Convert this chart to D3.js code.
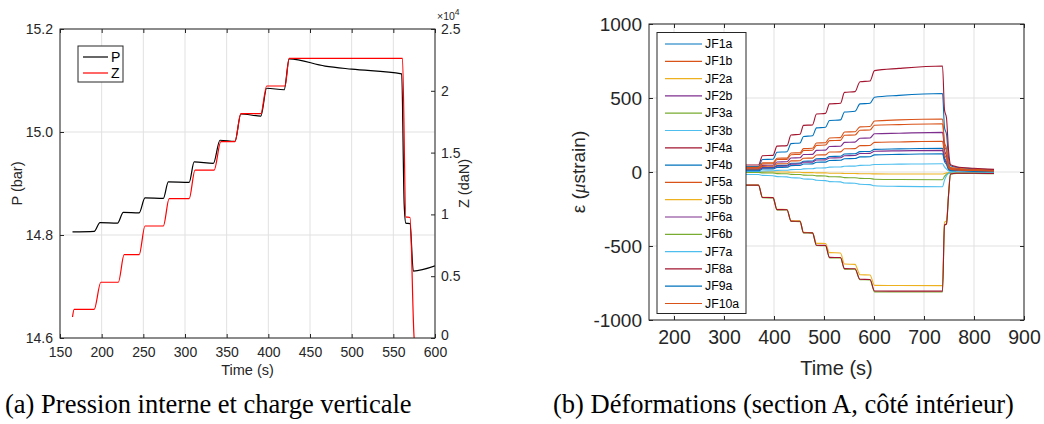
<!DOCTYPE html>
<html><head><meta charset="utf-8">
<script src="https://cdn.jsdelivr.net/npm/d3@7"></script>
<style>
body{margin:0;background:#fff;}
svg{display:block;font-family:"Liberation Sans",Arial,sans-serif;}
</style></head><body>
<svg id="c" width="1044" height="424"></svg>
<script>
// ---------- Left chart data ----------
const xTicksL = [150,200,250,300,350,400,450,500,550,600];
const pTicks = [14.6,14.8,15.0,15.2];
const zTicks = [0,0.5,1,1.5,2,2.5];           // ×10^4 daN
const pTime = [165,191,198,219,226,245,252,274,280,305,311,334,342,360,367,391,398,419,425,468,500,560,563,565,570,574,600];
const pVal  = [14.806,14.807,14.824,14.823,14.844,14.843,14.872,14.871,14.903,14.902,14.942,14.939,14.984,14.982,15.035,15.031,15.085,15.082,15.142,15.128,15.122,15.113,14.86,14.823,14.822,14.730,14.740];
const zTime = [165,167,191,199,220,227,245,252,274,281,305,312,335,343,360,367,391,398,420,425,561,565,570,575,578];
const zVal  = [0.17,0.232,0.232,0.451,0.451,0.674,0.674,0.906,0.906,1.127,1.127,1.359,1.359,1.588,1.588,1.815,1.815,2.039,2.039,2.263,2.263,0.98,0.975,0,-0.1];
const leftLegend = ["P","Z"];

// ---------- Right chart data ----------
const xTicksR = [200,300,400,500,600,700,800,900];
const yTicksR = [-1000,-500,0,500,1000];
const sTime = [170,369,377,398,406,426,434,452,459,477,485,503,511,533,541,562,572,592,601,650,737,741,745,749,753,765,800,840];
const JF1a  = [35,36,84,86,133,137,192,196,240,245,298,302,348,352,405,410,460,464,505,518,530,300,255,95,42,32,22,16];
const JF1b  = [30,31,62,63,93,94,128,130,158,160,196,198,230,232,270,272,305,307,345,352,358,200,160,60,30,25,18,14];
const JF2a  = [2,2,1,1,0,0,-2,-2,-4,-4,-6,-6,-8,-8,-10,-10,-12,-12,-13,-14,-14,-10,-6,-4,-3,-3,-4,-5];
const JF2b  = [22,22,45,46,68,69,95,96,118,119,146,148,172,174,200,202,228,230,258,262,268,150,110,40,22,18,12,8];
const JF3a  = [-3,-3,-6,-7,-11,-12,-16,-17,-21,-22,-26,-27,-32,-33,-38,-39,-43,-44,-49,-51,-52,-30,-15,-8,-5,-5,-6,-6];
const JF3b  = [-16,-17,-23,-25,-31,-33,-39,-41,-47,-49,-56,-58,-65,-67,-74,-76,-83,-85,-93,-97,-100,-55,-25,-10,-6,-5,-6,-8];
const JF4a  = [47,47,110,112,175,178,250,255,315,318,392,396,460,464,538,543,610,615,685,700,716,420,365,150,50,36,25,18];
const JF4b  = [16,16,30,31,44,45,59,60,73,74,90,91,105,106,122,123,138,139,153,156,160,95,70,25,15,12,8,5];
const JF5a  = [26,27,55,56,84,85,117,119,145,147,180,182,212,214,248,250,282,284,316,320,326,180,140,50,25,20,14,10];
const JF5b  = [-88,-88,-171,-172,-252,-253,-329,-330,-408,-409,-482,-483,-545,-547,-622,-624,-694,-696,-766,-767,-768,-340,-330,-150,-10,-6,-6,-8];
const JF6a  = [12,12,26,27,39,40,53,54,66,67,81,82,95,96,110,111,125,126,140,143,146,85,60,22,12,10,6,4];
const JF6b  = [-90,-90,-174,-175,-256,-257,-334,-335,-412,-413,-497,-498,-580,-581,-656,-657,-728,-729,-810,-811,-811,-362,-352,-162,-15,-9,-9,-11];
const JF7a  = [4,4,7,8,11,12,16,17,21,22,27,28,33,34,39,40,45,46,51,53,56,35,20,8,4,2,0,-2];
const JF8a  = [-88,-89,-172,-173,-254,-255,-332,-333,-410,-411,-495,-496,-577,-578,-653,-654,-725,-726,-804,-805,-805,-358,-350,-160,-14,-8,-8,-10];
const JF9a  = [8,8,20,21,31,32,43,44,54,55,66,67,78,79,90,91,102,103,116,119,123,70,50,18,10,8,4,2];
const JF10a = [20,20,38,39,55,56,75,76,93,94,115,116,135,136,157,158,178,179,200,203,208,120,90,30,18,14,10,6];
const jfNames = ["JF1a","JF1b","JF2a","JF2b","JF3a","JF3b","JF4a","JF4b","JF5a","JF5b","JF6a","JF6b","JF7a","JF8a","JF9a","JF10a"];
const jfValues = [JF1a,JF1b,JF2a,JF2b,JF3a,JF3b,JF4a,JF4b,JF5a,JF5b,JF6a,JF6b,JF7a,JF8a,JF9a,JF10a];
const matlabColors = ["#0072BD","#D95319","#EDB120","#7E2F8E","#77AC30","#4DBEEE","#A2142F"];

const captionA = "(a) Pression interne et charge verticale";
const captionB = "(b) Déformations (section A, côté intérieur)";

// ---------- Drawing ----------
const svg = d3.select("#c");
const ink = "#262626", gridC = "#e1e1e1";
const defs = svg.append("defs");

function styleAxis(g, fs){
  g.attr("font-family","Liberation Sans, Arial, sans-serif").attr("font-size",fs);
  g.select(".domain").remove();
  g.selectAll("line").attr("stroke",ink);
  g.selectAll("text").attr("fill",ink);
  return g;
}
const plain = d => String(d);

// ===== Left =====
const L = {l:60, r:435, t:29, b:338};
const xL = d3.scaleLinear([150,600],[L.l,L.r]);
const yP = d3.scaleLinear([14.6,15.2],[L.b,L.t]);
const yZ = d3.scaleLinear([0,2.5],[L.b,L.t]);
const gL = svg.append("g");
gL.selectAll(null).data(xTicksL).join("line")
  .attr("x1",d=>xL(d)).attr("x2",d=>xL(d)).attr("y1",L.t).attr("y2",L.b).attr("stroke",gridC);
gL.selectAll(null).data(pTicks).join("line")
  .attr("y1",d=>yP(d)).attr("y2",d=>yP(d)).attr("x1",L.l).attr("x2",L.r).attr("stroke",gridC);
defs.append("clipPath").attr("id","clipL").append("rect")
  .attr("x",L.l).attr("y",L.t).attr("width",L.r-L.l).attr("height",L.b-L.t);
const pData = pTime.map((t,i)=>[t,pVal[i]]);
const zData = zTime.map((t,i)=>[t,zVal[i]]);
const plotL = gL.append("g").attr("clip-path","url(#clipL)");
plotL.append("path").datum(pData).attr("fill","none").attr("stroke","#000").attr("stroke-width",1.2)
  .attr("d",d3.line().x(d=>xL(d[0])).y(d=>yP(d[1])).curve(d3.curveMonotoneX));
plotL.append("path").datum(zData).attr("fill","none").attr("stroke","#ff0000").attr("stroke-width",1.2)
  .attr("d",d3.line().x(d=>xL(d[0])).y(d=>yZ(d[1])).curve(d3.curveMonotoneX));
gL.append("rect").attr("x",L.l).attr("y",L.t).attr("width",L.r-L.l).attr("height",L.b-L.t)
  .attr("fill","none").attr("stroke",ink).attr("stroke-width",1);
styleAxis(gL.append("g").attr("transform",`translate(0,${L.b})`)
  .call(d3.axisBottom(xL).tickValues(xTicksL).tickSize(-4).tickSizeOuter(0).tickPadding(9).tickFormat(plain)),14);
styleAxis(gL.append("g").attr("transform",`translate(0,${L.t})`)
  .call(d3.axisTop(xL).tickValues(xTicksL).tickSize(-4).tickSizeOuter(0).tickFormat("")),14);
styleAxis(gL.append("g").attr("transform",`translate(${L.l},0)`)
  .call(d3.axisLeft(yP).tickValues(pTicks).tickSize(-4).tickSizeOuter(0).tickPadding(7).tickFormat(d3.format(".1f"))),14);
const axZ = styleAxis(gL.append("g").attr("transform",`translate(${L.r},0)`)
  .call(d3.axisRight(yZ).tickValues(zTicks).tickSize(-4).tickSizeOuter(0).tickPadding(6).tickFormat(plain)),14);
axZ.selectAll(".tick text").filter(d=>d===0).attr("dy","0.1em");
const exp = gL.append("text").attr("x",437).attr("y",20).attr("fill",ink).attr("font-size",10.5);
exp.append("tspan").text("×10");
exp.append("tspan").attr("dy",-5).attr("font-size",8.5).text("4");
gL.append("text").attr("x",(L.l+L.r)/2).attr("y",375).attr("text-anchor","middle").attr("fill",ink).attr("font-size",14.5).text("Time (s)");
gL.append("text").attr("transform",`translate(17,${(L.t+L.b)/2}) rotate(-90)`).attr("text-anchor","middle")
  .attr("dominant-baseline","central").attr("fill",ink).attr("font-size",14.5).text("P (bar)");
gL.append("text").attr("transform",`translate(464,${(L.t+L.b)/2}) rotate(-90)`).attr("text-anchor","middle")
  .attr("dominant-baseline","central").attr("fill",ink).attr("font-size",14.5).text("Z (daN)");
// left legend
const lgL = gL.append("g");
lgL.append("rect").attr("x",78).attr("y",46).attr("width",45).attr("height",36).attr("fill","#fff").attr("stroke",ink);
lgL.selectAll(null).data(leftLegend).join("g").each(function(d,i){
  const g = d3.select(this), y = 57 + i*16;
  g.append("line").attr("x1",83).attr("x2",108).attr("y1",y).attr("y2",y).attr("stroke",i? "#ff0000":"#000").attr("stroke-width",1.2);
  g.append("text").attr("x",111).attr("y",y).attr("dominant-baseline","central").attr("fill","#000").attr("font-size",14).text(d);
});

// ===== Right =====
const R = {l:649, r:1024, t:24, b:320};
const xR = d3.scaleLinear([150,900],[R.l,R.r]);
const yR = d3.scaleLinear([-1000,1000],[R.b,R.t]);
const gR = svg.append("g");
gR.selectAll(null).data(xTicksR).join("line")
  .attr("x1",d=>xR(d)).attr("x2",d=>xR(d)).attr("y1",R.t).attr("y2",R.b).attr("stroke",gridC);
gR.selectAll(null).data(yTicksR).join("line")
  .attr("y1",d=>yR(d)).attr("y2",d=>yR(d)).attr("x1",R.l).attr("x2",R.r).attr("stroke",gridC);
defs.append("clipPath").attr("id","clipR").append("rect")
  .attr("x",R.l).attr("y",R.t).attr("width",R.r-R.l).attr("height",R.b-R.t);
const plotR = gR.append("g").attr("clip-path","url(#clipR)");
const lineR = d3.line().x(d=>xR(d[0])).y(d=>yR(d[1])).curve(d3.curveMonotoneX);
jfValues.forEach((vals,k)=>{
  plotR.append("path").datum(sTime.map((t,i)=>[t,vals[i]]))
    .attr("fill","none").attr("stroke",matlabColors[k%7]).attr("stroke-width",1.1).attr("d",lineR);
});
gR.append("rect").attr("x",R.l).attr("y",R.t).attr("width",R.r-R.l).attr("height",R.b-R.t)
  .attr("fill","none").attr("stroke",ink);
styleAxis(gR.append("g").attr("transform",`translate(0,${R.b})`)
  .call(d3.axisBottom(xR).tickValues(xTicksR).tickSize(-4).tickSizeOuter(0).tickPadding(10).tickFormat(plain)),19.5);
styleAxis(gR.append("g").attr("transform",`translate(0,${R.t})`)
  .call(d3.axisTop(xR).tickValues(xTicksR).tickSize(-4).tickSizeOuter(0).tickFormat("")),19);
styleAxis(gR.append("g").attr("transform",`translate(${R.l},0)`)
  .call(d3.axisLeft(yR).tickValues(yTicksR).tickSize(-4).tickSizeOuter(0).tickPadding(7).tickFormat(plain)),19);
styleAxis(gR.append("g").attr("transform",`translate(${R.r},0)`)
  .call(d3.axisRight(yR).tickValues(yTicksR).tickSize(-4).tickSizeOuter(0).tickFormat("")),19);
gR.append("text").attr("x",(R.l+R.r)/2).attr("y",375).attr("text-anchor","middle").attr("fill",ink).attr("font-size",20).text("Time (s)");
const yl = gR.append("text").attr("transform",`translate(578,${(R.t+R.b)/2}) rotate(-90)`).attr("text-anchor","middle")
  .attr("dominant-baseline","central").attr("fill",ink).attr("font-size",19);
yl.append("tspan").text("ε (");
yl.append("tspan").attr("font-style","italic").attr("font-family","Liberation Serif, serif").text("μ");
yl.append("tspan").text("strain)");
// right legend
const lgR = gR.append("g");
lgR.append("rect").attr("x",657).attr("y",32.5).attr("width",89).attr("height",281).attr("fill","#fff").attr("stroke",ink);
jfNames.forEach((n,i)=>{
  const y = 44 + i*17.3;
  lgR.append("line").attr("x1",665).attr("x2",702).attr("y1",y).attr("y2",y).attr("stroke",matlabColors[i%7]).attr("stroke-width",1.2);
  lgR.append("text").attr("x",705).attr("y",y).attr("dominant-baseline","central").attr("fill","#000").attr("font-size",12.3).text(n);
});

// ===== Captions =====
const capA = svg.append("text").attr("x",5).attr("y",413).attr("font-family","Liberation Serif, serif").attr("font-size",22).attr("fill","#000").text(captionA);
const wA = capA.node().getComputedTextLength();
const fsCap = 22*407/wA;
capA.attr("font-size",fsCap);
svg.append("text").attr("x",553).attr("y",413).attr("font-family","Liberation Serif, serif").attr("font-size",fsCap).attr("fill","#000").text(captionB);
</script>
</body></html>
